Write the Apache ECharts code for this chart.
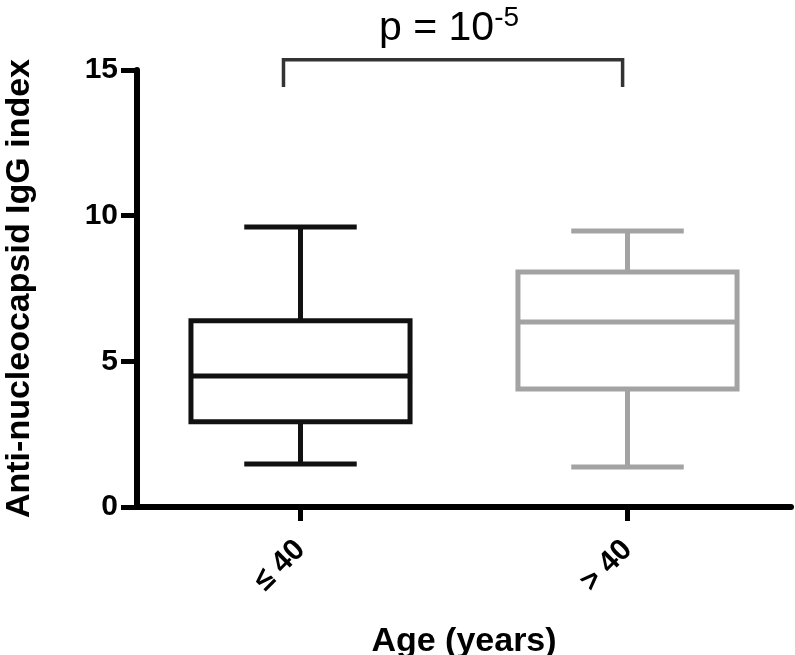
<!DOCTYPE html>
<html>
<head>
<meta charset="utf-8">
<script src="https://cdn.jsdelivr.net/npm/echarts@6/dist/echarts.min.js"></script>
<style>
html,body{margin:0;padding:0;background:#fff;}
#chart{width:795px;height:655px;}
</style>
</head>
<body>
<div id="chart"></div>
<script>
// Data
const categories = ['≤ 40', '> 40'];
// [low whisker, Q1, median, Q3, high whisker]
const boxLE40 = [1.48, 2.93, 4.50, 6.39, 9.61];
const boxGT40 = [1.37, 4.05, 6.35, 8.07, 9.47];
const yTicks = [0, 5, 10, 15];
const pLabel = 'p = 10';
const pExponent = '-5';
// significance bracket: [x left, x right, y top, y bottom] on hidden value axis
const bracket = [-0.052, 0.985, 15.35, 14.42];

const boxColors = ['#111111', '#a3a3a3'];
const FONT = 'Liberation Sans, Arial, Helvetica, sans-serif';

const chart = echarts.init(document.getElementById('chart'), null, {renderer: 'canvas'});

const boxData = [[0].concat(boxLE40), [1].concat(boxGT40)];

function renderBox(params, api) {
  const x = api.value(0);
  const low = api.coord([x, api.value(1)]);
  const q1 = api.coord([x, api.value(2)]);
  const med = api.coord([x, api.value(3)]);
  const q3 = api.coord([x, api.value(4)]);
  const high = api.coord([x, api.value(5)]);
  const band = api.size([1, 0])[0];
  const half = band * 0.335;
  const cap = band * 0.172;
  const cx = med[0];
  const color = boxColors[params.dataIndex];
  const st = {stroke: color, lineWidth: 5, fill: null};
  return {
    type: 'group',
    children: [
      {type: 'rect', shape: {x: cx - half, y: q3[1], width: half * 2, height: q1[1] - q3[1]}, style: Object.assign({}, st, {fill: '#fff'})},
      {type: 'line', shape: {x1: cx - half, y1: med[1], x2: cx + half, y2: med[1]}, style: st},
      {type: 'line', shape: {x1: cx, y1: q3[1], x2: cx, y2: high[1]}, style: st},
      {type: 'line', shape: {x1: cx, y1: q1[1], x2: cx, y2: low[1]}, style: st},
      {type: 'line', shape: {x1: cx - cap, y1: high[1], x2: cx + cap, y2: high[1]}, style: st},
      {type: 'line', shape: {x1: cx - cap, y1: low[1], x2: cx + cap, y2: low[1]}, style: st}
    ]
  };
}

function renderBracket(params, api) {
  const pl = api.coord([api.value(0), api.value(2)]);
  const pr = api.coord([api.value(1), api.value(2)]);
  const bl = api.coord([api.value(0), api.value(3)]);
  const st = {stroke: '#333', lineWidth: 3.5, fill: null};
  return {
    type: 'group',
    children: [
      {type: 'polyline', shape: {points: [[bl[0], bl[1]], [pl[0], pl[1]], [pr[0], pr[1]], [pr[0], bl[1]]]}, style: st},
      {type: 'text', x: (pl[0] + pr[0]) / 2 - 4, y: pl[1] - 10,
        style: {
          text: '{a|' + pLabel + '}{b|' + pExponent + '}',
          align: 'center', verticalAlign: 'bottom',
          rich: {
            a: {fontFamily: FONT, fontSize: 41, color: '#111', lineHeight: 42},
            b: {fontFamily: FONT, fontSize: 28, color: '#111', padding: [0, 0, 22, 0], lineHeight: 42}
          }
        }}
    ]
  };
}

chart.setOption({
  animation: false,
  backgroundColor: '#fff',
  grid: {left: 137, right: 4, top: 70, bottom: 148, containLabel: false, outerBoundsMode: 'none'},
  xAxis: [{
    type: 'category',
    data: categories,
    boundaryGap: true,
    axisLine: {show: true, lineStyle: {color: '#000', width: 6}},
    axisTick: {show: true, alignWithLabel: true, length: 14, lineStyle: {color: '#000', width: 5}},
    axisLabel: {rotate: 45, margin: 38, color: '#000', fontSize: 30, fontWeight: 'bold', fontFamily: FONT},
    name: 'Age (years)',
    nameLocation: 'middle',
    nameGap: 118,
    nameTextStyle: {color: '#000', fontSize: 34, fontWeight: 'bold', fontFamily: FONT},
    splitLine: {show: false}
  }, {
    type: 'value',
    min: -0.5, max: 1.5,
    position: 'bottom',
    show: false
  }],
  yAxis: {
    type: 'value',
    min: 0, max: 15, interval: 5,
    axisLine: {show: true, onZero: false, lineStyle: {color: '#000', width: 6}},
    axisTick: {show: true, length: 16, lineStyle: {color: '#000', width: 5}},
    axisLabel: {margin: 19, color: '#000', fontSize: 30, fontWeight: 'bold', fontFamily: FONT,
      formatter: function (v) { return yTicks.indexOf(v) >= 0 ? String(v) : ''; }},
    splitLine: {show: false},
    name: 'Anti-nucleocapsid IgG index',
    nameLocation: 'middle',
    nameGap: 100,
    nameTextStyle: {color: '#000', fontSize: 34, fontWeight: 'bold', fontFamily: FONT}
  },
  series: [{
    type: 'custom',
    xAxisIndex: 0,
    renderItem: renderBox,
    data: boxData,
    encode: {x: 0, y: [1, 2, 3, 4, 5]},
    z: 3
  }, {
    type: 'custom',
    xAxisIndex: 1,
    renderItem: renderBracket,
    data: [bracket],
    encode: {x: [0, 1], y: [2, 3]},
    clip: false,
    z: 4
  }]
});
</script>
</body>
</html>
